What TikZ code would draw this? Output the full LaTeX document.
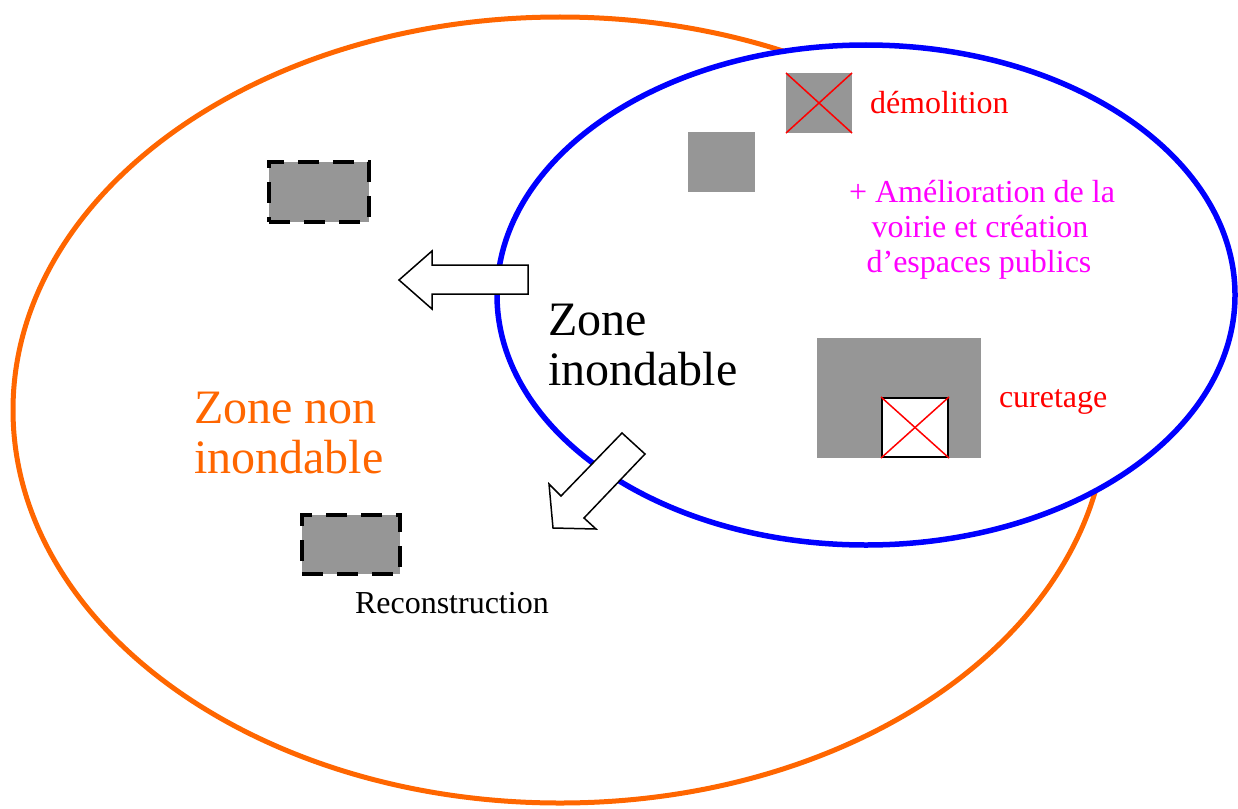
\documentclass[tikz,border=0pt]{standalone}
\usepackage{fontspec}
\setmainfont{Liberation Serif}
\definecolor{zoneorange}{HTML}{FF6600}
\definecolor{zoneblue}{HTML}{0000FF}
\definecolor{bati}{HTML}{969696}
\definecolor{rose}{HTML}{FF00FF}
\tikzset{
  building/.style={fill=bati, draw=none, inner sep=0pt, outer sep=0pt},
  moved/.style={building, draw=black, line width=4.5pt, dash pattern=on 21pt off 14pt},
  cross/.style={red, line width=1.5pt},
  hollowarrow/.style={draw=black, fill=white, line width=1.5pt, line join=miter},
  label/.style={inner sep=0pt, outer sep=0pt, anchor=base west},
  small/.style={font=\fontsize{32}{35}\selectfont},
  big/.style={font=\fontsize{48}{49}\selectfont},
}
\begin{document}
\begin{tikzpicture}[x=1pt, y=-1pt]
\useasboundingbox (0,0) rectangle (1238,808);

% the two zones
\draw[zoneorange, line width=5pt] (560,410) ellipse [x radius=547, y radius=393];
\draw[zoneblue, fill=white, line width=5.5pt] (866,295) ellipse [x radius=369, y radius=250];

% buildings inside the flood zone
\node[building, minimum width=66pt, minimum height=60pt] (demol) at (819,103) {};
\draw[cross] (demol.north west) -- (demol.south east);
\draw[cross] (demol.north east) -- (demol.south west);
\node[building, minimum width=67pt, minimum height=60pt] (keep) at (721.5,162) {};

\node[building, minimum width=164pt, minimum height=120pt] (block) at (899,398) {};
\node[fill=white, draw=black, line width=2pt, inner sep=0pt,
      minimum width=66pt, minimum height=59pt] (cour) at (915,427.5) {};
\draw[cross] (cour.north west) -- (cour.south east);
\draw[cross] (cour.north east) -- (cour.south west);

% rebuilt buildings outside the flood zone
\node[moved, minimum width=100pt, minimum height=60pt] (new1) at (319,192) {};
\node[moved, minimum width=98pt, minimum height=59pt] (new2) at (351,544.5) {};

% relocation arrows
\draw[hollowarrow] (528,265) -- (432,265) -- (432,251) -- (399,280)
  -- (432,309) -- (432,294) -- (528,294) -- cycle;
\draw[hollowarrow] (622,433) -- (645,454) -- (584,518) -- (596,529)
  -- (553,528) -- (549,484) -- (561,496) -- cycle;

% labels
\node[label, small, red] (tdemol) at (870,113) {démolition};
\node[label, small, red] (tcur) at (999,407) {curetage};
\node[label, small, black] (trec) at (355,613) {Reconstruction};
\node[inner sep=0pt, anchor=base, small, rose] (tvoirie1) at (982,202) {+ Amélioration de la};
\node[inner sep=0pt, anchor=base, small, rose] (tvoirie2) at (980,237) {voirie et création};
\node[inner sep=0pt, anchor=base, small, rose] (tvoirie3) at (979,272) {d’espaces publics};
\node[label, big, black] (tz1) at (548,335) {Zone};
\node[label, big, black] (tz2) at (548,385) {inondable};
\node[label, big, zoneorange] (tn1) at (194,423) {Zone non};
\node[label, big, zoneorange] (tn2) at (194,473) {inondable};
\end{tikzpicture}
\end{document}
